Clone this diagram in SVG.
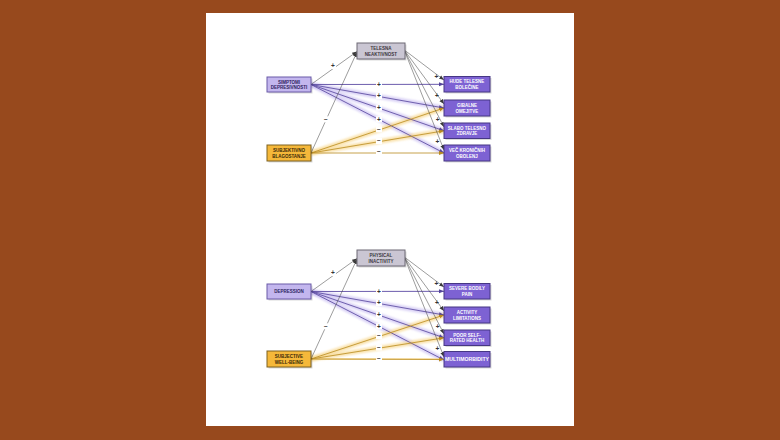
<svg xmlns="http://www.w3.org/2000/svg" width="780" height="440" viewBox="0 0 780 440">
<style>
.bx text{font-family:"Liberation Sans",Arial,sans-serif;font-weight:bold;font-size:4.5px;text-anchor:middle}
.gray rect.b{fill:#cac6d3;stroke:#6d6975;stroke-width:1}
.lav rect.b{fill:#c3b6ee;stroke:#6a5ba8;stroke-width:1}
.pur rect.b{fill:#7d62d3;stroke:#463784;stroke-width:1}
.org rect.b{fill:#f5b83a;stroke:#7e6220;stroke-width:1}
.gray text{fill:#3a3640}
.lav text{fill:#2e2360}
.pur text{fill:#ffffff}
.org text{fill:#3a2a08}
rect.sh{fill:#000;opacity:.15}
.pg{stroke:#cbc0f2;stroke-width:4.5;fill:none;opacity:.75;filter:url(#blur)}
.pl{stroke:#54449a;stroke-width:0.8;fill:none;marker-end:url(#ap)}
.og{stroke:#f8d88f;stroke-width:4.5;fill:none;opacity:.75;filter:url(#blur)}
.ol{stroke:#b98b20;stroke-width:0.8;fill:none;marker-end:url(#ao)}
.bl{stroke:#3a3a3a;stroke-width:0.5;fill:none;marker-end:url(#ab)}
.lbg{fill:#fff}
.lb{font-family:"Liberation Sans",Arial,sans-serif;font-size:6.5px;fill:#333;text-anchor:middle;font-weight:bold}
</style>
<defs>
<filter id="blur" x="-10%" y="-50%" width="120%" height="200%"><feGaussianBlur stdDeviation="0.9"/></filter>
<marker id="ab" markerWidth="6" markerHeight="6" refX="5" refY="3" orient="auto" markerUnits="userSpaceOnUse"><path d="M0,1 L5,3 L0,5 z" fill="#3a3a3a"/></marker>
<marker id="ap" markerWidth="6" markerHeight="6" refX="5" refY="3" orient="auto" markerUnits="userSpaceOnUse"><path d="M0,1 L5,3 L0,5 z" fill="#54449a"/></marker>
<marker id="ao" markerWidth="6" markerHeight="6" refX="5" refY="3" orient="auto" markerUnits="userSpaceOnUse"><path d="M0,1 L5,3 L0,5 z" fill="#b98b20"/></marker>
</defs>
<rect x="0" y="0" width="780" height="440" fill="#97491d"/>
<rect x="206" y="13" width="368" height="413" fill="#ffffff"/>

<!-- TOP DIAGRAM (Slovenian) -->
<g id="top">
<g id="connectors-top">
<line class="pg" x1="311" y1="84.5" x2="444" y2="84.3"/>
<line class="pg" x1="311" y1="84.5" x2="444" y2="108"/>
<line class="pg" x1="311" y1="84.5" x2="444" y2="130.8"/>
<line class="pg" x1="311" y1="84.5" x2="444" y2="153"/>
<line class="og" x1="311" y1="153" x2="444" y2="108"/>
<line class="og" x1="311" y1="153" x2="444" y2="130.8"/>
<line class="og" x1="311" y1="153" x2="444" y2="153"/>
<line class="pl" x1="311" y1="84.5" x2="444" y2="84.3"/>
<line class="pl" x1="311" y1="84.5" x2="444" y2="108"/>
<line class="pl" x1="311" y1="84.5" x2="444" y2="130.8"/>
<line class="pl" x1="311" y1="84.5" x2="444" y2="153"/>
<line class="ol" x1="311" y1="153" x2="444" y2="108"/>
<line class="ol" x1="311" y1="153" x2="444" y2="130.8"/>
<line class="ol" x1="311" y1="153" x2="444" y2="153"/>
<line class="bl" x1="311" y1="84.5" x2="357" y2="51.5"/>
<line class="bl" x1="311" y1="153" x2="357" y2="52"/>
<line class="bl" x1="405" y1="50.5" x2="444" y2="80"/>
<line class="bl" x1="405" y1="51" x2="444" y2="104"/>
<line class="bl" x1="405" y1="51.5" x2="444" y2="127"/>
<line class="bl" x1="405" y1="52" x2="444" y2="150"/>
<g id="labels-top">
<rect class="lbg" x="330" y="63" width="6" height="6"/><text class="lb" x="333" y="68.4">+</text>
<rect class="lbg" x="323" y="116.3" width="6" height="6"/><text class="lb" x="326" y="121.7">−</text>
<rect class="lbg" x="376" y="81.3" width="6" height="6"/><text class="lb" x="379" y="86.7">+</text>
<rect class="lbg" x="376" y="93" width="6" height="6"/><text class="lb" x="379" y="98.4">+</text>
<rect class="lbg" x="376" y="104.7" width="6" height="6"/><text class="lb" x="379" y="110.1">+</text>
<rect class="lbg" x="376" y="116.3" width="6" height="6"/><text class="lb" x="379" y="121.7">+</text>
<rect class="lbg" x="376" y="126.3" width="6" height="6"/><text class="lb" x="379" y="131.7">−</text>
<rect class="lbg" x="376" y="138" width="6" height="6"/><text class="lb" x="379" y="143.4">−</text>
<rect class="lbg" x="376" y="149" width="6" height="6"/><text class="lb" x="379" y="154.4">−</text>
<text class="lb" x="436.5" y="79.4">+</text>
<text class="lb" x="436.8" y="97.7">+</text>
<text class="lb" x="437.7" y="121.5">+</text>
<text class="lb" x="437.3" y="143.7">+</text>
</g>
</g>
<g id="n-telesna" class="bx gray"><rect class="sh" x="358.5" y="44.5" width="48" height="16"/><rect class="b" x="357" y="43" width="48" height="16"/><text x="381" y="50.2">TELESNA</text><text x="381" y="55.8">NEAKTIVNOST</text></g>
<g id="n-simptomi" class="bx lav"><rect class="sh" x="268.5" y="78.5" width="44" height="15"/><rect class="b" x="267" y="77" width="44" height="15"/><text x="289" y="83.6">SIMPTOMI</text><text x="289" y="89.2">DEPRESIVNOSTI</text></g>
<g id="n-subjektivno" class="bx org"><rect class="sh" x="268.5" y="146.5" width="44" height="16"/><rect class="b" x="267" y="145" width="44" height="16"/><text x="289" y="152.2">SUBJEKTIVNO</text><text x="289" y="157.8">BLAGOSTANJE</text></g>
<g id="n-hude" class="bx pur"><rect class="sh" x="445.5" y="78" width="46" height="15.5"/><rect class="b" x="444" y="76.5" width="46" height="15.5"/><text x="467" y="83.3">HUDE TELESNE</text><text x="467" y="88.9">BOLEČINE</text></g>
<g id="n-gibalne" class="bx pur"><rect class="sh" x="445.5" y="101.5" width="46" height="16"/><rect class="b" x="444" y="100" width="46" height="16"/><text x="467" y="107.2">GIBALNE</text><text x="467" y="112.8">OMEJITVE</text></g>
<g id="n-slabo" class="bx pur"><rect class="sh" x="445.5" y="124.5" width="46" height="15.5"/><rect class="b" x="444" y="123" width="46" height="15.5"/><text x="467" y="129.8">SLABO TELESNO</text><text x="467" y="135.4">ZDRAVJE</text></g>
<g id="n-vec" class="bx pur"><rect class="sh" x="445.5" y="146.5" width="46" height="16"/><rect class="b" x="444" y="145" width="46" height="16"/><text x="467" y="152.2">VEČ KRONIČNIH</text><text x="467" y="157.8">OBOLENJ</text></g>
</g>

<!-- BOTTOM DIAGRAM (English) -->
<g id="bottom" transform="translate(0,207)">
<g id="connectors-bottom">
<line class="pg" x1="311" y1="84.5" x2="444" y2="84.3"/>
<line class="pg" x1="311" y1="84.5" x2="444" y2="108"/>
<line class="pg" x1="311" y1="84.5" x2="444" y2="130.8"/>
<line class="pg" x1="311" y1="84.5" x2="444" y2="153"/>
<line class="og" x1="311" y1="152" x2="444" y2="108"/>
<line class="og" x1="311" y1="152" x2="444" y2="130.8"/>
<line class="og" x1="311" y1="152" x2="444" y2="152.5"/>
<line class="pl" x1="311" y1="84.5" x2="444" y2="84.3"/>
<line class="pl" x1="311" y1="84.5" x2="444" y2="108"/>
<line class="pl" x1="311" y1="84.5" x2="444" y2="130.8"/>
<line class="pl" x1="311" y1="84.5" x2="444" y2="153"/>
<line class="ol" x1="311" y1="152" x2="444" y2="108"/>
<line class="ol" x1="311" y1="152" x2="444" y2="130.8"/>
<line class="ol" x1="311" y1="152" x2="444" y2="152.5"/>
<line class="bl" x1="311" y1="84.5" x2="357" y2="51.5"/>
<line class="bl" x1="311" y1="152" x2="357" y2="52"/>
<line class="bl" x1="405" y1="50.5" x2="444" y2="80"/>
<line class="bl" x1="405" y1="51" x2="444" y2="104"/>
<line class="bl" x1="405" y1="51.5" x2="444" y2="127"/>
<line class="bl" x1="405" y1="52" x2="444" y2="150"/>
<g id="labels-bottom">
<rect class="lbg" x="330" y="63" width="6" height="6"/><text class="lb" x="333" y="68.4">+</text>
<rect class="lbg" x="323" y="116.3" width="6" height="6"/><text class="lb" x="326" y="121.7">−</text>
<rect class="lbg" x="376" y="81.3" width="6" height="6"/><text class="lb" x="379" y="86.7">+</text>
<rect class="lbg" x="376" y="93" width="6" height="6"/><text class="lb" x="379" y="98.4">+</text>
<rect class="lbg" x="376" y="104.7" width="6" height="6"/><text class="lb" x="379" y="110.1">+</text>
<rect class="lbg" x="376" y="116.3" width="6" height="6"/><text class="lb" x="379" y="121.7">+</text>
<rect class="lbg" x="376" y="126" width="6" height="6"/><text class="lb" x="379" y="131.4">−</text>
<rect class="lbg" x="376" y="137.5" width="6" height="6"/><text class="lb" x="379" y="142.9">−</text>
<rect class="lbg" x="376" y="148.5" width="6" height="6"/><text class="lb" x="379" y="153.9">−</text>
<text class="lb" x="436.5" y="79.4">+</text>
<text class="lb" x="436.8" y="97.7">+</text>
<text class="lb" x="437.7" y="121.5">+</text>
<text class="lb" x="437.3" y="143.7">+</text>
</g>
</g>
<g id="n-physical" class="bx gray"><rect class="sh" x="358.5" y="44.5" width="48" height="16"/><rect class="b" x="357" y="43" width="48" height="16"/><text x="381" y="50.2">PHYSICAL</text><text x="381" y="55.8">INACTIVITY</text></g>
<g id="n-depression" class="bx lav"><rect class="sh" x="268.5" y="78.5" width="44" height="15"/><rect class="b" x="267" y="77" width="44" height="15"/><text x="289" y="86.2">DEPRESSION</text></g>
<g id="n-subjective" class="bx org"><rect class="sh" x="268.5" y="145.5" width="44" height="16"/><rect class="b" x="267" y="144" width="44" height="16"/><text x="289" y="151.2">SUBJECTIVE</text><text x="289" y="156.8">WELL-BEING</text></g>
<g id="n-severe" class="bx pur"><rect class="sh" x="445.5" y="78" width="46" height="15.5"/><rect class="b" x="444" y="76.5" width="46" height="15.5"/><text x="467" y="83.3">SEVERE BODILY</text><text x="467" y="88.9">PAIN</text></g>
<g id="n-activity" class="bx pur"><rect class="sh" x="445.5" y="101.5" width="46" height="16"/><rect class="b" x="444" y="100" width="46" height="16"/><text x="467" y="107.2">ACTIVITY</text><text x="467" y="112.8">LIMITATIONS</text></g>
<g id="n-poor" class="bx pur"><rect class="sh" x="445.5" y="124.5" width="46" height="15.5"/><rect class="b" x="444" y="123" width="46" height="15.5"/><text x="467" y="129.8">POOR SELF-</text><text x="467" y="135.4">RATED HEALTH</text></g>
<g id="n-multi" class="bx pur"><rect class="sh" x="445.5" y="146" width="46" height="15.5"/><rect class="b" x="444" y="144.5" width="46" height="15.5"/><text x="467" y="154" textLength="44" lengthAdjust="spacingAndGlyphs">MULTIMORBIDITY</text></g>
</g>
</svg>
